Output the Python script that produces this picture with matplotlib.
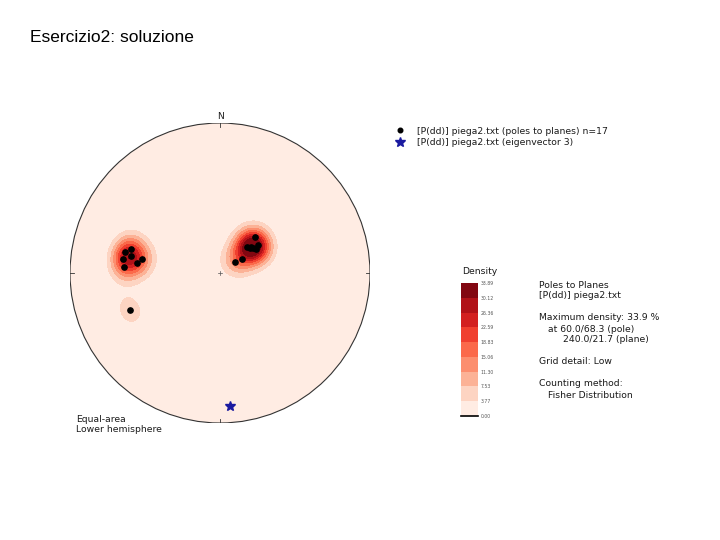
import matplotlib
matplotlib.use("Agg")
import matplotlib.pyplot as plt
from matplotlib.lines import Line2D
import numpy as np

# planes from piega2.txt (dip direction / dip)
dip_dir = [102.6, 104.9, 98.0, 100.8, 100.2, 96.7, 93.8, 67.6,
           224.4, 233.3, 229.8, 233.4, 226.8, 236.8, 233.1, 230.3, 236.0]
dip = [54.6, 51.5, 54.8, 50.6, 43.7, 46.5, 53.8, 54.6,
       27.5, 25.6, 21.3, 22.6, 20.4, 14.0, 10.1, 22.2, 23.7]

# eigenvector 3 (trend / plunge)
eig3_trend = 175.7
eig3_plunge = 12.3

# density levels (%)
levels = [0.00, 3.77, 7.53, 11.30, 15.06, 18.83, 22.59, 26.36, 30.12, 33.89]

info_lines = ["Poles to Planes", "[P(dd)] piega2.txt", None,
              "Maximum density: 33.9 %", "   at 60.0/68.3 (pole)",
              "        240.0/21.7 (plane)", None, "Grid detail: Low", None,
              "Counting method:", "   Fisher Distribution"]

kappa = 95.0


def to_vec(trend, plunge):
    t = np.radians(trend)
    p = np.radians(plunge)
    return np.array([np.cos(p) * np.sin(t), np.cos(p) * np.cos(t), -np.sin(p)])


def project(trend, plunge):
    # equal-area (Schmidt), lower hemisphere, unit radius
    r = np.sqrt(2) * np.sin(np.radians(90 - np.asarray(plunge)) / 2)
    t = np.radians(trend)
    return r * np.sin(t), r * np.cos(t)


pole_trend = (np.array(dip_dir) + 180) % 360
pole_plunge = 90 - np.array(dip)
px, py = project(pole_trend, pole_plunge)
ex, ey = project(eig3_trend, eig3_plunge)

# Fisher counting on a grid
g = np.linspace(-1, 1, 301)
X, Y = np.meshgrid(g, g)
R = np.sqrt(X**2 + Y**2)
Rc = np.clip(R, 0, 1)
gpl = 90 - 2 * np.degrees(np.arcsin(Rc / np.sqrt(2)))
gtr = np.degrees(np.arctan2(X, Y))
gv = to_vec(gtr, gpl)
pv = to_vec(pole_trend, pole_plunge)
dens = np.zeros_like(X)
for i in range(pv.shape[1]):
    c = np.abs(gv[0] * pv[0, i] + gv[1] * pv[1, i] + gv[2] * pv[2, i])
    dens += np.exp(kappa * (c - 1))
dens = dens / len(dip) * 100
dens = np.minimum(dens, levels[-1])

fig = plt.figure(figsize=(7.2, 5.4), dpi=100)
fig.text(30 / 720, 1 - 37 / 540, "Esercizio2: soluzione", fontsize=12.5,
         family="Liberation Sans", va="center", ha="left")

ax = fig.add_axes([70 / 720, 117 / 540, 300 / 720, 300 / 540])
ax.set_xlim(-1, 1)
ax.set_ylim(-1, 1)
ax.set_aspect("equal")
ax.axis("off")

circle = plt.Circle((0, 0), 1, transform=ax.transData, facecolor="none",
                    edgecolor="#333333", lw=0.8, zorder=5)
ax.add_patch(circle)
cf = ax.contourf(X, Y, dens, levels=levels, cmap="Reds")
cf.set_clip_path(circle)

# cardinal ticks and centre cross
for a in [0, 90, 180, 270]:
    s, c = np.sin(np.radians(a)), np.cos(np.radians(a))
    ax.plot([0.975 * s, 1.025 * s], [0.975 * c, 1.025 * c], color="#333333", lw=0.6)
ax.plot([-0.015, 0.015], [0, 0], color="#555555", lw=0.5)
ax.plot([0, 0], [-0.015, 0.015], color="#555555", lw=0.5)
ax.text(0, 1.015, "N", ha="center", va="bottom", fontsize=6.5, color="#1a1a1a")

ax.plot(px, py, "o", color="black", markersize=3.8, zorder=6)
ax.plot(ex, ey, "*", color="#1a1aa0", markersize=7, zorder=6)

ax.text(-0.96, -1.01, "Equal-area\nLower hemisphere", fontsize=6.7,
        color="#1a1a1a", ha="left", va="center", linespacing=1.25)

# legend
handles = [Line2D([], [], ls="none", marker="o", color="black", markersize=3.3),
           Line2D([], [], ls="none", marker="*", color="#1a1aa0", markersize=7)]
labels = ["[P(dd)] piega2.txt (poles to planes) n=17",
          "[P(dd)] piega2.txt (eigenvector 3)"]
fig.legend(handles, labels, loc="upper left", bbox_to_anchor=(391 / 720, 1 - 122 / 540),
           frameon=False, fontsize=6.7, handlelength=1.0, handletextpad=1.3,
           labelspacing=0.3, borderpad=0, labelcolor="#1a1a1a")

# colour bar
cax = fig.add_axes([461 / 720, 124 / 540, 17 / 720, 133 / 540])
cb = fig.colorbar(cf, cax=cax, ticks=levels)
cb.outline.set_visible(False)
cb.ax.tick_params(length=0, labelsize=3.3, labelcolor="#555555", pad=2)
cb.ax.set_yticklabels([f"{v:.2f}" for v in levels])
cax.axhline(0, color="black", lw=1.2, clip_on=False)
fig.text(462 / 720, 1 - 271 / 540, "Density", fontsize=6.7, color="#1a1a1a",
         va="center", ha="left")

y = 285
for line in info_lines:
    if line is not None:
        fig.text(539 / 720, 1 - y / 540, line, fontsize=6.7, color="#1a1a1a",
                 va="center", ha="left")
    y += 11

fig.savefig("out.png", dpi=100)
